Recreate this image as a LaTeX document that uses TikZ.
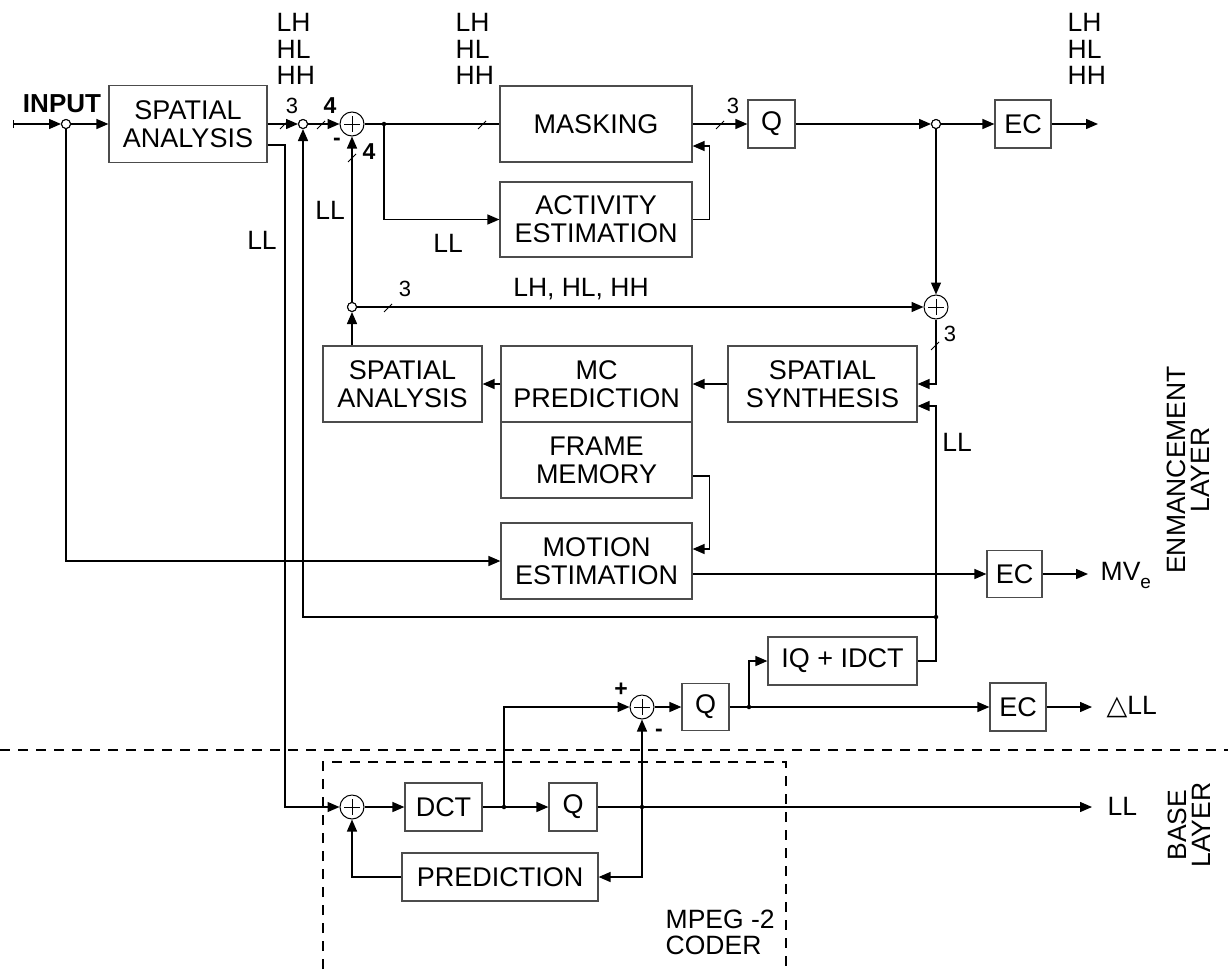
\documentclass[tikz,border=0pt]{standalone}
\usepackage{fontspec}
\setmainfont{Liberation Sans}
\newfontfamily\dejavu{DejaVu Sans}
\usetikzlibrary{arrows.meta,calc}
\begin{document}
\begin{tikzpicture}[x=1pt,y=-1pt,
 line width=1.4pt,
 arr/.style={-{Triangle[length=12pt,width=10pt]}},
 box/.style={draw=black!70,line width=1.2pt,rectangle,inner sep=0pt,align=center,font=\fontsize{27}{28}\selectfont},
 junc/.style={circle,draw,fill=white,minimum size=9pt,inner sep=0pt,line width=1pt},
 adder/.style={circle,draw,fill=white,minimum size=24pt,inner sep=0pt,line width=1pt,
   path picture={\draw[line width=1pt] ($(path picture bounding box.center)+(0,-8)$) -- ($(path picture bounding box.center)+(0,8)$)
     ($(path picture bounding box.center)+(-8,0)$) -- ($(path picture bounding box.center)+(8,0)$);}},
 dotn/.style={circle,fill,minimum size=4.5pt,inner sep=0pt},
 lab/.style={inner sep=0pt,font=\fontsize{26.5}{26.5}\selectfont,align=left},
 num/.style={inner sep=0pt,font=\fontsize{22}{22}\selectfont},
 bnum/.style={inner sep=0pt,font=\bfseries\fontsize{23}{23}\selectfont},
 tickmk/.style={line width=0.8pt},
 layerline/.style={dash pattern=on 10pt off 8pt,line width=1.3pt}
]
\useasboundingbox (0,0) rectangle (1228,969);

% ---------- boxes ----------
\node[box,minimum width=158pt,minimum height=77pt] (sa1) at (188,124) {SPATIAL\\ANALYSIS};
\node[box,minimum width=192pt,minimum height=76pt] (mask) at (596,124) {MASKING};
\node[box,minimum width=192pt,minimum height=75pt] (act) at (596,219.5) {ACTIVITY\\ESTIMATION};
\node[box,minimum width=47pt,minimum height=48pt] (q1) at (771.5,124) {Q};
\node[box,minimum width=56pt,minimum height=48pt] (ec1) at (1023,124) {EC};
\node[box,minimum width=159pt,minimum height=76pt] (sa2) at (402.5,384) {SPATIAL\\ANALYSIS};
\node[box,minimum width=191pt,minimum height=76pt] (mc) at (596.5,384) {MC\\PREDICTION};
\node[box,minimum width=191pt,minimum height=76pt] (fm) at (596.5,460) {FRAME\\MEMORY};
\node[box,minimum width=191pt,minimum height=76pt] (me) at (596.5,561) {MOTION\\ESTIMATION};
\node[box,minimum width=55pt,minimum height=47pt] (ec2) at (1014.5,574) {EC};
\node[box,minimum width=189pt,minimum height=76pt] (ss) at (822.5,384) {SPATIAL\\SYNTHESIS};
\node[box,minimum width=149pt,minimum height=48pt] (iq) at (842.5,661) {IQ + IDCT};
\node[box,minimum width=47pt,minimum height=47pt] (q2) at (705.5,707) {Q};
\node[box,minimum width=56pt,minimum height=48pt] (ec3) at (1018,707) {EC};
\node[box,minimum width=77pt,minimum height=48pt] (dct) at (443.5,807) {DCT};
\node[box,minimum width=48pt,minimum height=48pt] (q3) at (573,807) {Q};
\node[box,minimum width=196pt,minimum height=48pt] (pred) at (500,877) {PREDICTION};

% ---------- junctions, adders, dots ----------
\node[junc] (j1) at (66,124) {};
\node[junc] (j2) at (303,124) {};
\node[junc] (j3) at (936,124) {};
\node[junc] (j4) at (352,307) {};
\node[adder] (a1) at (352,124) {};
\node[adder] (a2) at (936,307) {};
\node[adder] (a3) at (642,707) {};
\node[adder] (a4) at (352,807) {};
\coordinate (d1) at (384,124);
\coordinate (d2) at (936,617);
\coordinate (d3) at (749,707);
\coordinate (d4) at (504,807);
\coordinate (d5) at (642,807);
\coordinate (in) at (13,124);
\coordinate (llc) at (285,807);
\coordinate (o1) at (1098,124);
\coordinate (o2) at (1088,574);
\coordinate (o3) at (1092,707);
\coordinate (o4) at (1092,807);

% ---------- connectors ----------
\draw[{Bar[width=8pt,line width=1pt]}-{Triangle[length=12pt,width=10pt]}] (in) -- (j1);
\draw[arr] (j1) -- (sa1);
\draw[arr] (j1) |- (me.west);
\draw[arr] (sa1) -- (j2);
\draw[arr] (j2) -- (a1);
\draw[arr] (sa1.east |- 0,145) -| (llc) -- (a4);
\draw (a1) -- (mask.west);
\draw[arr] (d1) |- (act.west);
\draw[arr] (act.east) -- ++(17,0) |- (mask.east |- 0,146);
\draw[arr] (mask) -- (q1);
\draw[arr] (q1) -- (j3);
\draw[arr] (j3) -- (ec1);
\draw[arr] (ec1) -- (o1);
\draw[arr] (j3) -- (a2);
\draw[arr] (j4) -- (a2);
\draw[arr] (j4 |- sa2.north) -- (j4);
\draw[arr] (j4) -- (a1);
\draw[arr] (a2) |- (ss.east);
\draw[arr] (ss) -- (mc);
\draw[arr] (mc) -- (sa2);
\draw[arr] (fm.east |- 0,476) -- ++(17,0) |- (me.east |- 0,549);
\draw[arr] (me.east |- 0,574) -- (ec2.west);
\draw[arr] (ec2) -- (o2);
\draw[arr] (iq.east) -| (d2) -- (d2 |- 0,406) -- (ss.east |- 0,406);
\draw[arr] (d2) -| (j2);
\draw[arr] (d3) |- (iq.west);
\draw[arr] (a3) -- (q2);
\draw[arr] (q2) -- (ec3);
\draw[arr] (ec3) -- (o3);
\draw[arr] (a4) -- (dct);
\draw[arr] (dct) -- (q3);
\draw[arr] (d4) |- (a3);
\draw[arr] (q3.east) -- (o4);
\draw[arr] (d5) -- (a3);
\draw[arr] (d5) |- (pred.east);
\draw[arr] (pred.west) -| (a4);

% redraw junction circles on top
\node[junc] at (j1) {};
\node[junc] at (j2) {};
\node[junc] at (j3) {};
\node[junc] at (j4) {};

% dots
\foreach \d in {d1,d2,d3,d4,d5} \node[dotn] at (\d) {};

% bus tick marks
\draw[tickmk] (280,129) -- ++(8,-8);
\draw[tickmk] (317,129) -- ++(8,-8);
\draw[tickmk] (348,162) -- ++(8,-8);
\draw[tickmk] (478,129) -- ++(8,-8);
\draw[tickmk] (716,129) -- ++(8,-8);
\draw[tickmk] (384,312) -- ++(8,-8);
\draw[tickmk] (931,350) -- ++(8,-8);

% ---------- labels ----------
\node[inner sep=0pt,font=\bfseries\fontsize{26}{26}\selectfont] at (62,104) {INPUT};
\node[lab,anchor=north west] at (276,13) {LH\\HL\\HH};
\node[lab,anchor=north west] at (455,13) {LH\\HL\\HH};
\node[lab,anchor=north west] at (1067,13) {LH\\HL\\HH};
\node[num] at (292,106) {3};
\node[bnum] at (330,106) {4};
\node[bnum] at (337,142) {-};
\node[bnum] at (369,152) {4};
\node[lab] at (262,240) {LL};
\node[lab] at (330,210) {LL};
\node[lab] at (448,243) {LL};
\node[num] at (733,106) {3};
\node[num] at (405,289) {3};
\node[lab] at (581,289) {LH, HL, HH};
\node[num] at (950,334) {3};
\node[lab] at (957,442) {LL};
\node[lab,anchor=west] at (1100,575) {MV\raisebox{-8pt}{\fontsize{19}{19}\selectfont e}};
\node[lab,anchor=west] at (1106,707) {{\dejavu\fontsize{27}{27}\selectfont △}LL};
\node[lab,anchor=west] at (1107,806) {LL};
\node[bnum] at (621,690) {+};
\node[bnum] at (659,733) {-};
\node[lab,anchor=north west] at (665,909) {MPEG -2\\CODER};
\node[lab,align=center,rotate=90,font=\fontsize{26.5}{24}\selectfont] at (1188,470) {ENMANCEMENT\\LAYER};
\node[lab,align=center,rotate=90,font=\fontsize{26.5}{24}\selectfont] at (1189,825) {BASE\\LAYER};

% ---------- layer separators ----------
\draw[layerline] (0,750) -- (1228,750);
\draw[layerline] (323,969) -- (323,762) -- (786,762) -- (786,969);
\end{tikzpicture}
\end{document}
